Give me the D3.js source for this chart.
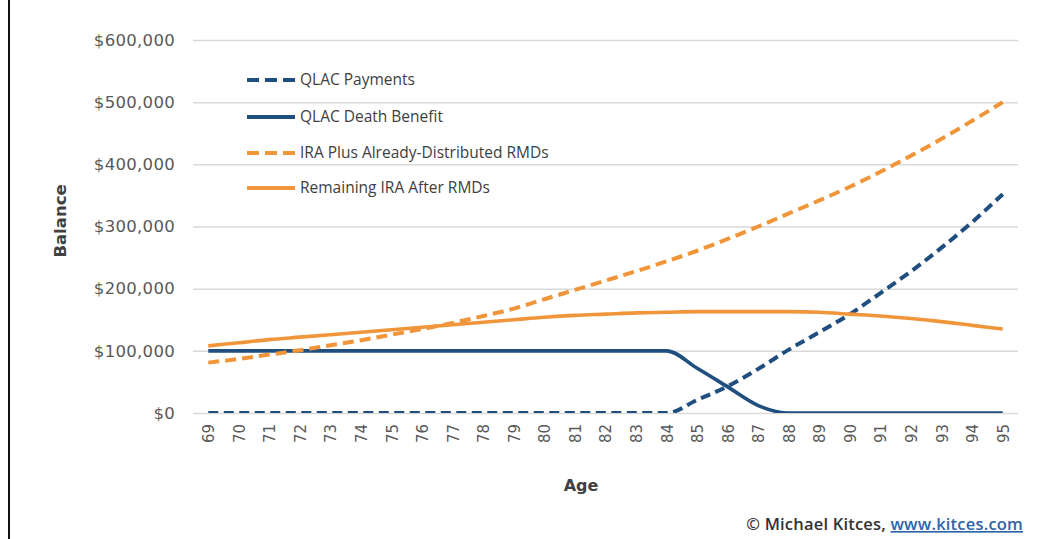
<!DOCTYPE html>
<html>
<head>
<meta charset="utf-8">
<script src="https://cdn.jsdelivr.net/npm/d3@7"></script>
<style>
  html, body { margin: 0; padding: 0; background: #ffffff; }
  svg { display: block; }
</style>
</head>
<body>
<svg id="chart" width="1047" height="539"></svg>
<script>
// Ages on the horizontal axis
const ages = [69,70,71,72,73,74,75,76,77,78,79,80,81,82,83,84,85,86,87,88,89,90,91,92,93,94,95];

// Balances in dollars, one value per age
const qlacPayments = [0,0,0,0,0,0,0,0,0,0,0,0,0,0,0,0,
  21000,43000,71000,102000,130000,159000,193000,228000,266000,307000,352000];
const qlacDeathBenefit = [100000,100000,100000,100000,100000,100000,100000,100000,100000,100000,
  100000,100000,100000,100000,100000,100000,72000,42000,12000,0,0,0,0,0,0,0,0];
const iraPlusDistributed = [81000,87000,94000,101000,109000,117000,126000,135000,145000,156000,
  168000,183000,198000,213000,228000,244000,261000,280000,300000,321000,342000,364000,388000,
  414000,441000,470000,500000];
const remainingIra = [108000,113000,118000,122000,126000,130000,134000,138000,142000,146000,
  150000,154000,157000,159000,161000,162000,163000,163000,163000,163000,162000,159000,156000,
  152000,147000,141000,135000];

// Axis ticks
const yTicks = [0,100000,200000,300000,400000,500000,600000];
const xTickLabels = ages.map(String);

// Series names for the legend, in drawing order
const seriesNames = ["QLAC Payments","QLAC Death Benefit","IRA Plus Already-Distributed RMDs","Remaining IRA After RMDs"];

const BLUE = "#1f4e7f";
const ORANGE = "#f0953a";

const series = [
  { name: seriesNames[0], values: qlacPayments,       color: BLUE,   dash: "10,5.5" },
  { name: seriesNames[1], values: qlacDeathBenefit,   color: BLUE,   dash: null },
  { name: seriesNames[2], values: iraPlusDistributed, color: ORANGE, dash: "11,6" },
  { name: seriesNames[3], values: remainingIra,       color: ORANGE, dash: null }
];

const svg = d3.select("#chart");
const plot = { left: 193, right: 1018, top: 40, bottom: 413 };

const x = d3.scalePoint().domain(ages).range([plot.left, plot.right]).padding(0.5);
const y = d3.scaleLinear().domain([0, 600000]).range([plot.bottom, plot.top]);

// frame edge on the left
svg.append("line")
  .attr("x1", 9).attr("x2", 9).attr("y1", 0).attr("y2", 539)
  .attr("stroke", "#111").attr("stroke-width", 2);

// horizontal gridlines
const grid = svg.append("g")
  .attr("transform", `translate(${plot.left},0)`)
  .call(d3.axisLeft(y).tickValues(yTicks).tickSize(-(plot.right - plot.left)).tickFormat(""));
grid.select(".domain").remove();
grid.selectAll(".tick line").attr("stroke", "#d9d9d9").attr("stroke-width", 1.5);

// y axis labels
const yAxis = svg.append("g")
  .attr("transform", `translate(${plot.left - 18},0)`)
  .call(d3.axisLeft(y).tickValues(yTicks).tickSize(0).tickPadding(0).tickFormat(d3.format("$,")));
yAxis.select(".domain").remove();
yAxis.selectAll("text")
  .attr("fill", "#595959")
  .style("font-family", "'DejaVu Sans', sans-serif")
  .style("font-size", "16.5px")
  .style("letter-spacing", "0.3px");

// x axis labels, rotated
const xAxis = svg.append("g")
  .attr("transform", `translate(0,${plot.bottom})`)
  .call(d3.axisBottom(x).tickSize(0).tickFormat((d, i) => xTickLabels[i]));
xAxis.select(".domain").remove();
xAxis.selectAll("text")
  .attr("fill", "#595959")
  .style("font-family", "'DejaVu Sans', sans-serif")
  .style("font-size", "15px")
  .attr("text-anchor", "end")
  .attr("transform", "rotate(-90)")
  .attr("x", -11)
  .attr("y", 0)
  .attr("dy", "0.36em");

// axis titles
svg.append("text")
  .attr("x", 581).attr("y", 491)
  .attr("text-anchor", "middle")
  .attr("fill", "#404040")
  .style("font-family", "'DejaVu Sans', sans-serif")
  .style("font-weight", "bold")
  .style("font-size", "16px")
  .text("Age");

svg.append("text")
  .attr("transform", "translate(66,221) rotate(-90)")
  .attr("text-anchor", "middle")
  .attr("fill", "#404040")
  .style("font-family", "'DejaVu Sans', sans-serif")
  .style("font-weight", "bold")
  .style("font-size", "16.5px")
  .text("Balance");

// series lines, clipped to the plot area
svg.append("defs").append("clipPath").attr("id", "plotClip")
  .append("rect")
  .attr("x", plot.left).attr("y", 0)
  .attr("width", plot.right - plot.left).attr("height", plot.bottom);

const line = d3.line()
  .x((d, i) => x(ages[i]))
  .y(d => y(d))
  .curve(d3.curveMonotoneX);

const lines = svg.append("g").attr("clip-path", "url(#plotClip)");
series.forEach(s => {
  lines.append("path")
    .datum(s.values)
    .attr("d", line)
    .attr("fill", "none")
    .attr("stroke", s.color)
    .attr("stroke-width", s.dash ? 4 : 3.6)
    .attr("stroke-dasharray", s.dash)
    .attr("stroke-linejoin", "round");
});

// legend
const legend = svg.append("g");
const legendRows = [80, 117, 153, 188];
series.forEach((s, i) => {
  const g = legend.append("g").attr("transform", `translate(247,${legendRows[i]})`);
  g.append("line")
    .attr("x1", 0).attr("x2", 48).attr("y1", 0).attr("y2", 0)
    .attr("stroke", s.color)
    .attr("stroke-width", 4)
    .attr("stroke-dasharray", s.dash ? "12,6" : null);
  g.append("text")
    .attr("x", 53).attr("y", 0).attr("dy", "0.35em")
    .attr("fill", "#404040")
    .style("font-family", "'Open Sans', sans-serif")
    .style("font-size", "15.5px")
    .text(s.name);
});

// credit line
const credit = svg.append("text")
  .attr("x", 1023).attr("y", 530)
  .attr("text-anchor", "end")
  .style("font-family", "'Open Sans', sans-serif")
  .style("font-size", "16.5px")
  .style("font-weight", "600")
  .style("letter-spacing", "0.2px")
  .attr("fill", "#333333");
credit.append("tspan").text("© Michael Kitces, ");
credit.append("tspan").attr("fill", "#2f64a8").style("text-decoration", "underline").text("www.kitces.com");
</script>
</body>
</html>
